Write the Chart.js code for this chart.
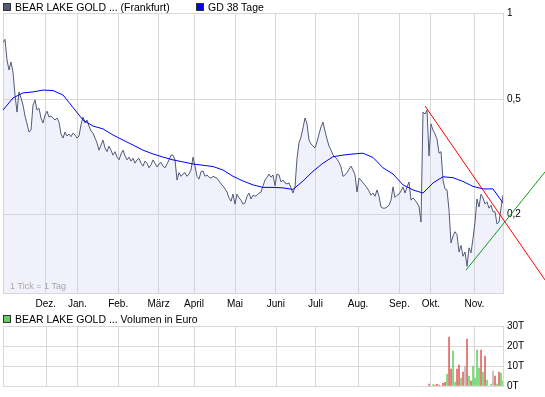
<!DOCTYPE html>
<html lang="de">
<head>
  <meta charset="UTF-8" />
  <title>Bear Lake Gold - Chart</title>
  <script src="https://cdn.jsdelivr.net/npm/chart.js"></script>
  <style>
    body {
      margin: 0;
      background: #fff;
      font-family: 'Liberation Sans', Arial, sans-serif;
    }
    #wrap {
      position: relative;
      width: 545px;
      height: 397px;
      overflow: hidden;
    }
    canvas { position: absolute; left: 0; }
    .box {
      position: absolute;
      width: 8px;
      height: 8px;
      box-sizing: border-box;
      border: 1px solid #333;
    }
    .lbl {
      position: absolute;
      font-size: 10.5px;
      line-height: 12px;
      color: #000;
      white-space: nowrap;
    }
  </style>
</head>
<body>
<div id="wrap">
  <canvas id="priceChart" width="545" height="312" style="top:0"></canvas>
  <canvas id="volumeChart" width="545" height="85" style="top:312px"></canvas>

  <div class="box" style="left:3px;top:3px;background:#525a78"></div>
  <div class="lbl" style="left:15px;top:1px">BEAR LAKE GOLD ... (Frankfurt)</div>
  <div class="box" style="left:196px;top:3px;background:#0000ff"></div>
  <div class="lbl" style="left:208px;top:1px">GD 38 Tage</div>

  <div class="box" style="left:3px;top:315px;background:#66cc66"></div>
  <div class="lbl" style="left:15px;top:313px">BEAR LAKE GOLD ... Volumen in Euro</div>
</div>

<script>
  // x axis: trading day index (0 = first day shown), months start at these days
  const monthTicks = [21.4, 37.2, 57.6, 77.8, 95.5, 116, 136.4, 156.2, 177.5, 198.2, 213.9, 235.7];
  const monthLabels = ['Dez.', 'Jan.', 'Feb.', 'März', 'April', 'Mai', 'Juni', 'Juli', 'Aug.', 'Sep.', 'Okt.', 'Nov.'];
  const priceTicks = [0.2, 0.5, 1];
  const volumeTicks = [0, 10, 20, 30];

  // daily close, Frankfurt (EUR)
  const closePrices = [
    0.79, 0.81, 0.687, 0.634, 0.676, 0.624, 0.519, 0.453, 0.532, 0.507,
    0.479, 0.439, 0.412, 0.386, 0.392, 0.479, 0.499, 0.46, 0.467, 0.432,
    0.415, 0.442, 0.456, 0.435, 0.439, 0.432, 0.425, 0.432, 0.418, 0.38,
    0.368, 0.386, 0.374, 0.38, 0.372, 0.383, 0.377, 0.368, 0.374, 0.409,
    0.435, 0.415, 0.425, 0.405, 0.389, 0.383, 0.368, 0.354, 0.334, 0.348,
    0.362, 0.34, 0.33, 0.345, 0.334, 0.321, 0.33, 0.316, 0.309, 0.324,
    0.334, 0.319, 0.309, 0.316, 0.306, 0.313, 0.301, 0.309, 0.313, 0.301,
    0.294, 0.306, 0.301, 0.29, 0.297, 0.309, 0.301, 0.292, 0.299, 0.303,
    0.294, 0.29, 0.299, 0.309, 0.321, 0.321, 0.309, 0.263, 0.279, 0.271,
    0.276, 0.279, 0.271, 0.276, 0.285, 0.316, 0.294, 0.271, 0.265, 0.281,
    0.283, 0.271, 0.274, 0.269, 0.267, 0.271, 0.269, 0.267, 0.261, 0.255,
    0.251, 0.245, 0.239, 0.228, 0.222, 0.235, 0.217, 0.235, 0.228, 0.224,
    0.217, 0.219, 0.231, 0.237, 0.226, 0.233, 0.231, 0.233, 0.237, 0.239,
    0.251, 0.263, 0.269, 0.276, 0.269, 0.274, 0.251, 0.276, 0.274, 0.259,
    0.263, 0.257, 0.255, 0.257, 0.247, 0.237, 0.249, 0.313, 0.354, 0.371,
    0.399, 0.432, 0.412, 0.362, 0.351, 0.345, 0.34, 0.357, 0.38, 0.402,
    0.418, 0.389, 0.365, 0.345, 0.334, 0.321, 0.316, 0.311, 0.303, 0.292,
    0.271, 0.274, 0.279, 0.287, 0.294, 0.285, 0.274, 0.239, 0.267, 0.263,
    0.257, 0.253, 0.247, 0.241, 0.233, 0.237, 0.231, 0.243, 0.231, 0.212,
    0.21, 0.21, 0.212, 0.215, 0.224, 0.249, 0.229, 0.233, 0.235, 0.241,
    0.249, 0.237, 0.249, 0.259, 0.224, 0.228, 0.224, 0.219, 0.213, 0.188,
    0.453, 0.446, 0.46, 0.319, 0.412, 0.392, 0.38, 0.365, 0.326, 0.33,
    0.263, 0.245, 0.243, 0.207, 0.159, 0.168, 0.174, 0.17, 0.148, 0.156,
    0.143, 0.148, 0.132, 0.153, 0.147, 0.165, 0.188, 0.226, 0.212, 0.235,
    0.228, 0.217, 0.221, 0.21, 0.215, 0.204, 0.204, 0.185, 0.188, 0.21,
    0.233
  ];

  // GD 38 Tage (38-day average), read every 5th day
  const gd38Step = 5;
  const gd38 = [
    0.46, 0.507, 0.528, 0.532, 0.54, 0.538, 0.519, 0.47, 0.425, 0.405,
    0.396, 0.377, 0.362, 0.348, 0.334, 0.324, 0.316, 0.309, 0.304, 0.299,
    0.296, 0.293, 0.285, 0.271, 0.261, 0.253, 0.248, 0.248, 0.247, 0.244,
    0.261, 0.282, 0.301, 0.317, 0.321, 0.324, 0.326, 0.315, 0.29, 0.276,
    0.253, 0.243, 0.237, 0.257, 0.27, 0.268, 0.26, 0.25, 0.245, 0.245,
    0.219
  ];

  // trend lines (day, price), they run on past the last day
  const downTrendDays = [211, 271];
  const downTrendValues = [0.4755, 0.1183];
  const upTrendDays = [231.5, 271];
  const upTrendValues = [0.128, 0.2805];

  // volume in thousand EUR from day 213 on; d = down day, u = up day, n = unchanged
  const volumeStart = 213;
  const volumes = [
    1.0, 0, 0.7, 0.4, 0.8, 0.4, 0, 1.3, 1.8, 6.0,
    24.5, 8.5, 17.5, 2.0, 8.5, 10.5, 4.0, 7.0, 10.0, 23.5,
    5.0, 2.5, 10.0, 4.0, 18.0, 9.0, 18.0, 7.0, 15.0, 3.0,
    0, 1.0, 7.5, 5.0, 1.0, 7.0, 6.5, 2.5
  ];
  const volumeMoves = [
    'd', 'n', 'u', 'd', 'd', 'd', 'n', 'd', 'd', 'u',
    'd', 'd', 'u', 'u', 'd', 'd', 'u', 'd', 'n', 'd',
    'u', 'd', 'u', 'u', 'u', 'u', 'd', 'u', 'd', 'u',
    'n', 'u', 'n', 'd', 'u', 'd', 'u', 'u'
  ];
  const moveColours = { d: '#e36464', u: '#66d866', n: '#b9b9b9' };

  const gridColour = '#d8d8d8';
  const fontFamily = "'Liberation Sans', Arial, sans-serif";

  // light frame round the plot area plus the small note
  const frame = {
    id: 'frame',
    beforeDatasetsDraw(chart, args, opts) {
      const { ctx, chartArea: a } = chart;
      ctx.save();
      ctx.strokeStyle = gridColour;
      ctx.lineWidth = 1;
      ctx.strokeRect(Math.floor(a.left) + 0.5, Math.floor(a.top) + 0.5,
        Math.round(a.right) - Math.floor(a.left), Math.round(a.bottom) - Math.floor(a.top));
      ctx.restore();
    },
    afterDraw(chart, args, opts) {
      if (!opts.note) return;
      const { ctx, chartArea: a } = chart;
      ctx.save();
      ctx.font = '9px ' + fontFamily;
      ctx.fillStyle = '#a8a8a8';
      ctx.textBaseline = 'middle';
      ctx.fillText(opts.note, a.left + 7, a.bottom - 6);
      ctx.restore();
    }
  };

  const monthAxis = (showLabels, height) => ({
    type: 'linear',
    min: 0,
    max: 250,
    offset: false,
    afterBuildTicks: s => { s.ticks = monthTicks.map(v => ({ value: v })); },
    afterFit: s => { s.height = height; },
    grid: { color: gridColour, drawTicks: false, offset: false },
    border: { display: false },
    ticks: {
      display: showLabels,
      autoSkip: false,
      maxRotation: 0,
      padding: 5,
      color: '#000',
      font: { family: fontFamily, size: 10 },
      callback: (v, i) => monthLabels[i]
    }
  });

  new Chart(document.getElementById('priceChart'), {
    type: 'line',
    data: {
      datasets: [
        {
          data: downTrendDays.map((d, i) => ({ x: d, y: downTrendValues[i] })),
          borderColor: '#ff0000', borderWidth: 1, pointRadius: 0, clip: false, order: 0
        },
        {
          data: upTrendDays.map((d, i) => ({ x: d, y: upTrendValues[i] })),
          borderColor: '#169a16', borderWidth: 1, pointRadius: 0, clip: false, order: 1
        },
        {
          label: 'GD 38 Tage',
          data: gd38.map((v, k) => ({ x: k * gd38Step, y: v })),
          borderColor: '#0000ff', borderWidth: 1, pointRadius: 0, order: 2
        },
        {
          label: 'BEAR LAKE GOLD ... (Frankfurt)',
          data: closePrices.map((v, i) => ({ x: i, y: v })),
          borderColor: '#525a78', borderWidth: 1, pointRadius: 0,
          fill: 'start', backgroundColor: 'rgba(200,200,240,0.25)', order: 3
        }
      ]
    },
    options: {
      responsive: false,
      animation: false,
      events: [],
      layout: { padding: { left: 3, top: 13, right: 0, bottom: 0 } },
      plugins: {
        legend: { display: false },
        tooltip: { enabled: false },
        frame: { note: '1 Tick = 1 Tag' }
      },
      scales: {
        x: monthAxis(true, 19),
        y: {
          type: 'logarithmic',
          position: 'right',
          min: 0.1066,
          max: 1,
          afterBuildTicks: s => { s.ticks = priceTicks.map(v => ({ value: v })); },
          afterFit: s => { s.width = 42; },
          grid: { color: gridColour, drawTicks: false },
          border: { display: false },
          ticks: {
            padding: 4,
            color: '#000',
            font: { family: fontFamily, size: 10 },
            callback: v => String(v).replace('.', ',')
          }
        }
      }
    },
    plugins: [frame]
  });

  new Chart(document.getElementById('volumeChart'), {
    type: 'bar',
    data: {
      datasets: [{
        data: volumes.map((v, k) => ({ x: volumeStart + k, y: v })),
        backgroundColor: volumeMoves.map(m => moveColours[m]),
        barThickness: 1,
        borderWidth: 0
      }]
    },
    options: {
      responsive: false,
      animation: false,
      events: [],
      layout: { padding: { left: 3.5, top: 14, right: 0, bottom: 0 } },
      plugins: {
        legend: { display: false },
        tooltip: { enabled: false },
        frame: {}
      },
      scales: {
        x: monthAxis(false, 11),
        y: {
          min: 0,
          max: 30,
          position: 'right',
          afterBuildTicks: s => { s.ticks = volumeTicks.map(v => ({ value: v })); },
          afterFit: s => { s.width = 42; },
          grid: { color: gridColour, drawTicks: false },
          border: { display: false },
          ticks: {
            padding: 4,
            color: '#000',
            font: { family: fontFamily, size: 10 },
            callback: v => v + 'T'
          }
        }
      }
    },
    plugins: [frame]
  });
</script>
</body>
</html>
